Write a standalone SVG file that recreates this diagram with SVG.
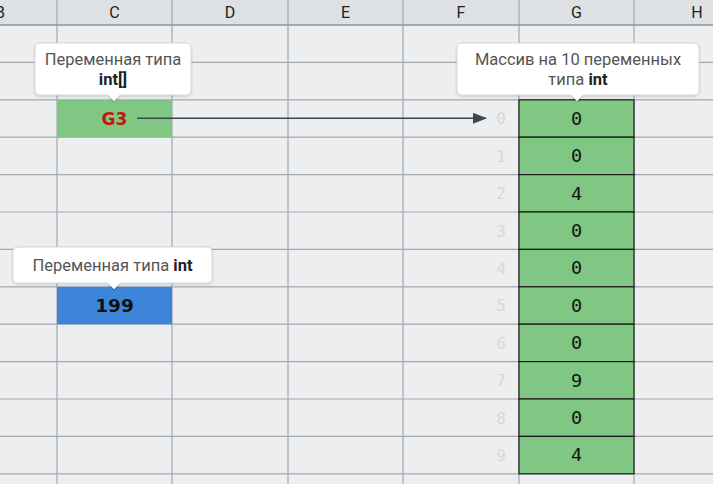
<svg xmlns="http://www.w3.org/2000/svg" width="713" height="484" viewBox="0 0 713 484">
  <defs>
    <marker id="arrowhead" markerWidth="14" markerHeight="11" refX="13" refY="5.5" orient="auto" markerUnits="userSpaceOnUse">
      <path d="M0,0 L14,5.5 L0,11 Z" fill="#3a4750"/>
    </marker>
    <filter id="shadow" x="-10%" y="-20%" width="120%" height="150%">
      <feDropShadow dx="0" dy="1" stdDeviation="1.2" flood-color="#000" flood-opacity="0.18"/>
    </filter>
  </defs>
  <style>
    .grid { stroke: #a3a8ad; stroke-width: 1.2; fill: none; }
    .hdr { font-family: Roboto, "Liberation Sans", sans-serif; font-size: 16px; fill: #202124; text-anchor: middle; }
    .val { font-family: "DejaVu Sans Mono", "Liberation Mono", monospace; font-size: 18.5px; fill: #111; text-anchor: middle; }
    .idx { font-family: "DejaVu Sans Mono", "Liberation Mono", monospace; font-size: 16px; fill: #d6d8db; text-anchor: middle; }
    .cell-g { fill: #81c784; stroke: #1b1b1b; stroke-width: 1.2; }
    .tip { fill: #ffffff; stroke: #d4d7da; stroke-width: 1; filter: url(#shadow); }
    .tiptext { font-family: Roboto, "Liberation Sans", sans-serif; font-size: 16.5px; fill: #555; text-anchor: middle; }
    .b { font-weight: bold; fill: #222; }
    .cellval { font-family: "DejaVu Sans", "Liberation Sans", sans-serif; font-weight: bold; text-anchor: middle; }
  </style>

  <!-- sheet background and header band -->
  <rect x="0" y="0" width="713" height="484" fill="#eceef0"/>
  <rect x="0" y="0" width="713" height="25" fill="#dde1e4"/>

  <!-- grid lines -->
  <g id="grid">
    <path class="grid" d="M57,0V484 M172,0V484 M288,0V484 M403,0V484 M519,0V484 M634,0V484"/>
    <path class="grid" d="M0,62.4H713 M0,99.8H713 M0,137.2H713 M0,174.6H713 M0,212H713 M0,249.4H713 M0,286.8H713 M0,324.2H713 M0,361.6H713 M0,399H713 M0,436.4H713 M0,473.8H713"/>
    <path d="M0,25H713" stroke="#8f959a" stroke-width="1.6"/>
  </g>

  <!-- column headers -->
  <g id="headers">
    <text class="hdr" x="0" y="18">B</text>
    <text class="hdr" x="114.5" y="18">C</text>
    <text class="hdr" x="230" y="18">D</text>
    <text class="hdr" x="345.5" y="18">E</text>
    <text class="hdr" x="461" y="18">F</text>
    <text class="hdr" x="576.5" y="18">G</text>
    <text class="hdr" x="697" y="18">H</text>
  </g>

  <!-- reference variable cell -->
  <g id="ref-cell">
    <rect x="57" y="99.8" width="115" height="37.4" fill="#81c784"/>
    <text class="cellval" x="114.5" y="124.8" font-size="17" fill="#c4170c">G3</text>
  </g>

  <!-- int variable cell -->
  <g id="int-cell">
    <rect x="57" y="286.8" width="115" height="37.4" fill="#3d85d8"/>
    <text class="cellval" x="114.5" y="312" font-size="18.5" fill="#111">199</text>
  </g>

  <!-- array of ten ints -->
  <g id="array">
    <rect class="cell-g" x="519" y="99.8" width="115" height="37.4"/>
    <rect class="cell-g" x="519" y="137.2" width="115" height="37.4"/>
    <rect class="cell-g" x="519" y="174.6" width="115" height="37.4"/>
    <rect class="cell-g" x="519" y="212" width="115" height="37.4"/>
    <rect class="cell-g" x="519" y="249.4" width="115" height="37.4"/>
    <rect class="cell-g" x="519" y="286.8" width="115" height="37.4"/>
    <rect class="cell-g" x="519" y="324.2" width="115" height="37.4"/>
    <rect class="cell-g" x="519" y="361.6" width="115" height="37.4"/>
    <rect class="cell-g" x="519" y="399" width="115" height="37.4"/>
    <rect class="cell-g" x="519" y="436.4" width="115" height="37.4"/>
    <text class="val" x="576.5" y="124.8">0</text>
    <text class="val" x="576.5" y="162.2">0</text>
    <text class="val" x="576.5" y="199.6">4</text>
    <text class="val" x="576.5" y="237">0</text>
    <text class="val" x="576.5" y="274.4">0</text>
    <text class="val" x="576.5" y="311.8">0</text>
    <text class="val" x="576.5" y="349.2">0</text>
    <text class="val" x="576.5" y="386.6">9</text>
    <text class="val" x="576.5" y="424">0</text>
    <text class="val" x="576.5" y="461.4">4</text>
  </g>

  <!-- array indices -->
  <g id="indices">
    <text class="idx" x="501" y="124.3">0</text>
    <text class="idx" x="501" y="161.7">1</text>
    <text class="idx" x="501" y="199.1">2</text>
    <text class="idx" x="501" y="236.5">3</text>
    <text class="idx" x="501" y="273.9">4</text>
    <text class="idx" x="501" y="311.3">5</text>
    <text class="idx" x="501" y="348.7">6</text>
    <text class="idx" x="501" y="386.1">7</text>
    <text class="idx" x="501" y="423.5">8</text>
    <text class="idx" x="501" y="460.9">9</text>
  </g>

  <!-- reference arrow -->
  <g id="connectors">
    <line x1="137" y1="118.3" x2="486" y2="118.3" stroke="#3a4750" stroke-width="1.6" marker-end="url(#arrowhead)"/>
  </g>

  <!-- callouts -->
  <g id="tip-ref">
    <path class="tip" d="M40,43 H186 Q191,43 191,48 V90 Q191,95 186,95 H120 L114,101 L108,95 H40 Q35,95 35,90 V48 Q35,43 40,43 Z"/>
    <text class="tiptext" x="113" y="65">Переменная типа</text>
    <text class="tiptext b" x="113" y="85">int[]</text>
  </g>

  <g id="tip-array">
    <path class="tip" d="M462,43 H694 Q699,43 699,48 V90 Q699,95 694,95 H583 L577,101 L571,95 H462 Q457,95 457,90 V48 Q457,43 462,43 Z"/>
    <text class="tiptext" x="578" y="65">Массив на 10 переменных</text>
    <text class="tiptext" x="578" y="85">типа <tspan class="b">int</tspan></text>
  </g>

  <g id="tip-int">
    <path class="tip" d="M18,247 H207 Q212,247 212,252 V278 Q212,283 207,283 H120 L114,289 L108,283 H18 Q13,283 13,278 V252 Q13,247 18,247 Z"/>
    <text class="tiptext" x="112.5" y="271">Переменная типа <tspan class="b">int</tspan></text>
  </g>
</svg>
